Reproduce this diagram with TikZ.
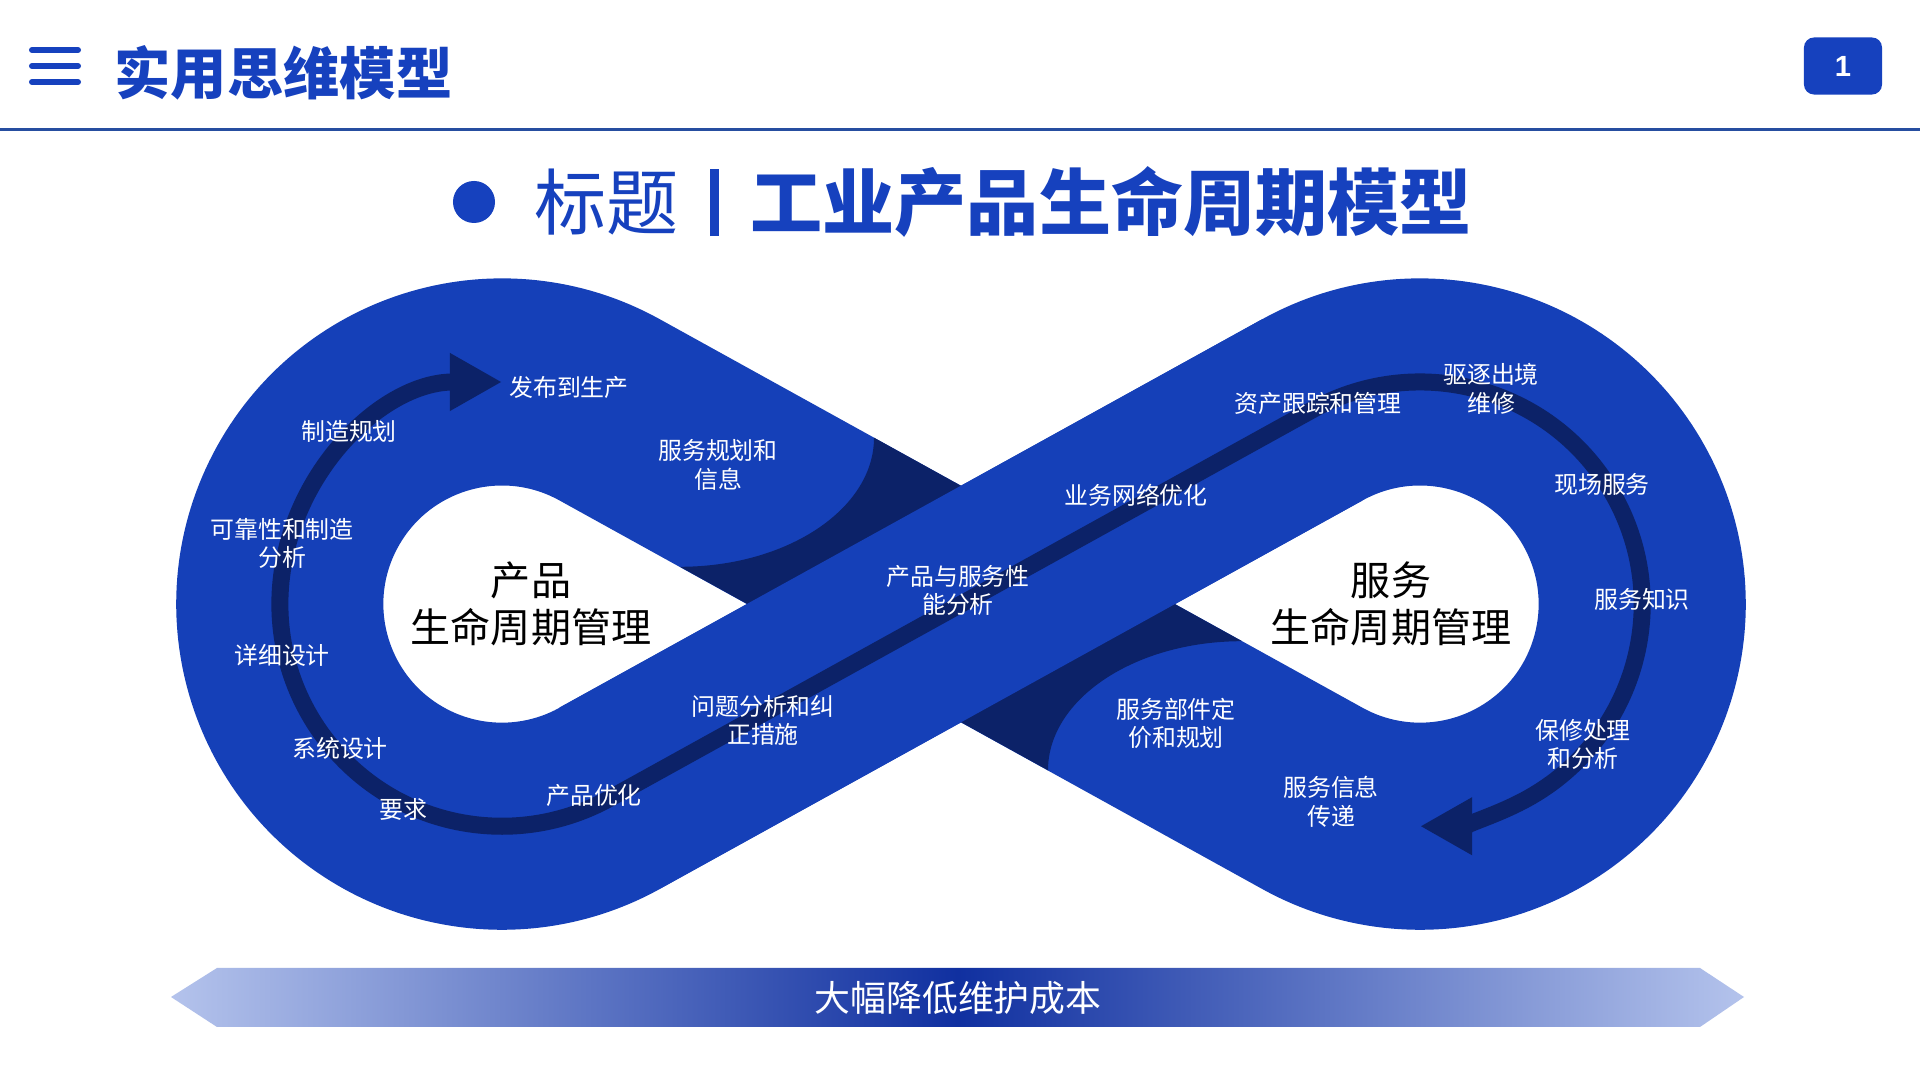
\documentclass[tikz,border=0pt]{standalone}
\usepackage{fontspec}
\usetikzlibrary{arrows.meta,calc,positioning}
\newfontfamily\cjk{Noto Sans CJK SC}
\newfontfamily\numfont{Liberation Sans}
\definecolor{bandblue}{RGB}{21,64,184}
\definecolor{deepblue}{RGB}{12,34,104}
\definecolor{titleblue}{RGB}{22,65,190}
\definecolor{rulecolor}{RGB}{38,78,160}
\definecolor{barlight}{RGB}{180,195,236}
\definecolor{bardark}{RGB}{16,48,160}
\tikzset{
    band/.style={draw=bandblue, line width=2.07cm},
    track/.style={draw=deepblue, line width=0.17cm,
                  {Triangle[length=0.52cm,width=0.54cm]}-{Triangle[length=0.52cm,width=0.54cm]}},
    lbl/.style={text=white, align=center, inner sep=0pt, font=\cjk\fontsize{6.8}{8.1}\selectfont},
    hub/.style={text=black, align=center, inner sep=0pt, font=\cjk\fontsize{11.4}{13.4}\selectfont},
    pagebox/.style={fill=titleblue, rounded corners=0.1cm, minimum width=0.78cm, minimum height=0.57cm,
                    text=white, font=\numfont\bfseries\fontsize{8.3}{10}\selectfont},
    bartext/.style={text=white, inner sep=0pt, font=\cjk\fontsize{10.2}{12}\selectfont}
}

\begin{document}
\begin{tikzpicture}[x=0.01cm, y=0.01cm]

  \fill[white] (0,0) rectangle (1920,-1080);
  \useasboundingbox (0,0) rectangle (1920,-1080);

  % header
  \foreach \yy in {50,66,82}
    \draw[titleblue, line width=0.06cm, line cap=round] (32,-\yy) -- (78,-\yy);
  \node[anchor=west, inner sep=0pt, text=titleblue,
        font=\cjk\bfseries\fontsize{16}{18}\selectfont] (head) at (114,-73) {实用思维模型};
  \node[pagebox] (pageno) at (1843,-66) {1};
  \draw[rulecolor, line width=0.03cm] (0,-130) -- (1920,-130);

  \node[circle, fill=titleblue, minimum size=0.42cm, inner sep=0pt] (dot) at (474,-202) {};
  \node[right=0.38cm of dot, inner sep=0pt, text=titleblue,
        font=\cjk\fontsize{20.5}{24}\selectfont] (subtitle)
        {标题\hspace{0.44em}\rule[-0.09em]{0.12em}{0.93em}\hspace{0.44em}{\bfseries 工业产品生命周期模型}};

  % figure eight
  \coordinate (lc) at (502,-604);
  \coordinate (rc) at (1420,-604);
  \draw[band] ($(lc)+(61.08:222)$) arc[start angle=61.08, end angle=298.92, radius=2.22cm]
      -- ($(rc)+(118.92:222)$) arc[start angle=118.92, end angle=-118.92, radius=2.22cm] -- cycle;

  \fill[deepblue] (874,-437.7) .. controls (874,-508.9) and (787.1,-566.8) .. (680,-566.8)
      -- (747.3,-604) -- (961,-604) -- (961,-485.8) -- cycle;
  \fill[deepblue] (1048,-770.3) .. controls (1048,-699.1) and (1134.9,-641.2) .. (1242,-641.2)
      -- (1174.7,-604) -- (961,-604) -- (961,-722.2) -- cycle;
  \draw[band] ($(lc)+(-61.08:222)$) -- ($(rc)+(118.92:222)$);

  \draw[track] ($(lc)+(90:222)$) arc[start angle=90, end angle=298.92, radius=2.22cm]
      -- ($(rc)+(118.92:222)$) arc[start angle=118.92, end angle=-90, radius=2.22cm];

  % hubs
  \node[hub] (prodhub) at (531,-604) {产品\\生命周期管理};
  \node[hub] (servhub) at (1391,-604) {服务\\生命周期管理};

  % left loop
  \node[lbl] (release)  at (569,-387)   {发布到生产};
  \node[lbl] (mfgplan)  at (349,-431)   {制造规划};
  \node[lbl] (svcplan)  at (718,-465)   {服务规划和\\信息};
  \node[lbl] (reliab)   at (282,-543.5) {可靠性和制造\\分析};
  \node[lbl] (detail)   at (282,-655)   {详细设计};
  \node[lbl] (sysdes)   at (340,-748)   {系统设计};
  \node[lbl] (require)  at (403,-809)   {要求};
  \node[lbl] (prodopt)  at (594,-795)   {产品优化};
  \node[lbl] (problem)  at (763,-720.5) {问题分析和纠\\正措施};
  \node[lbl] (perform)  at (958,-590.5) {产品与服务性\\能分析};

  % right loop
  \node[lbl] (network)  at (1136,-495)  {业务网络优化};
  \node[lbl] (asset)    at (1318,-403)  {资产跟踪和管理};
  \node[lbl] (depot)    at (1491,-389)  {驱逐出境\\维修};
  \node[lbl] (field)    at (1602,-484)  {现场服务};
  \node[lbl] (know)     at (1642,-599)  {服务知识};
  \node[lbl] (warranty) at (1583,-744.5) {保修处理\\和分析};
  \node[lbl] (svcinfo)  at (1331,-802)  {服务信息\\传递};
  \node[lbl] (parts)    at (1176,-723.5) {服务部件定\\价和规划};

  % bottom bar
  \shade[left color=barlight, right color=barlight, middle color=bardark]
      (171,-997) -- (217,-968) -- (1700,-968) -- (1744,-997) -- (1700,-1027) -- (217,-1027) -- cycle;
  \node[bartext] (motto) at (958,-998) {大幅降低维护成本};

\end{tikzpicture}
\end{document}
